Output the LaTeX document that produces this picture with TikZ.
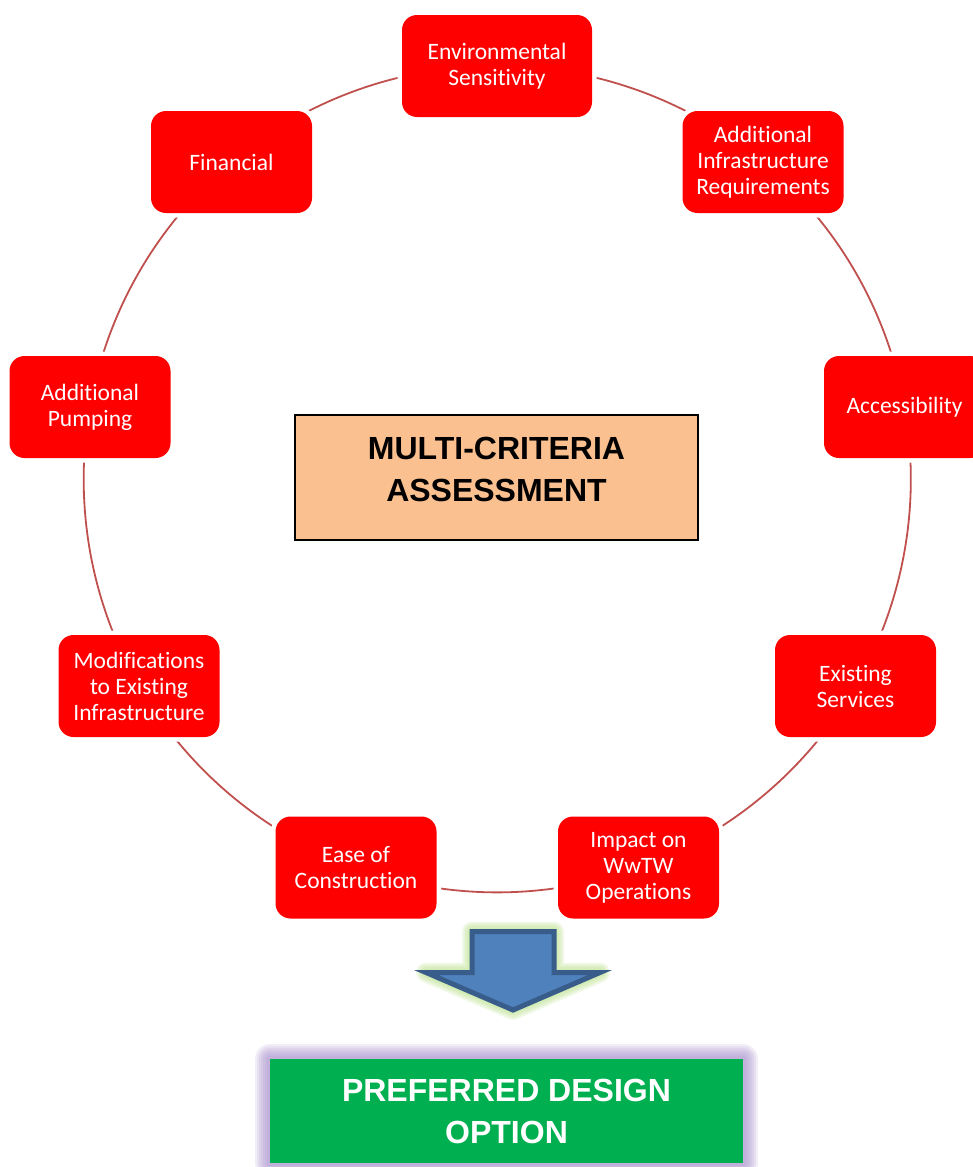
\documentclass[tikz,border=0pt]{standalone}
\usepackage{fontspec}
\setmainfont{Carlito}[Ligatures=NoCommon]
\newfontfamily\headfont{Liberation Sans}
\usetikzlibrary{backgrounds}
\definecolor{nodered}{HTML}{FF0000}
\definecolor{ringline}{HTML}{C0504D}
\definecolor{peach}{HTML}{FAC090}
\definecolor{arrowfill}{HTML}{4F81BD}
\definecolor{arrowedge}{HTML}{385D8A}
\definecolor{glowgreen}{HTML}{B9E08A}
\definecolor{boxgreen}{HTML}{00B050}
\definecolor{glowpurple}{HTML}{A088C8}
\begin{document}
\begin{tikzpicture}[x=1pt,y=-1pt,
  crit/.style={rectangle, rounded corners=15pt, fill=nodered, text=white,
    minimum width=161pt, minimum height=102pt, inner sep=2pt, align=center,
    font=\fontsize{23.5}{26}\selectfont,
    preaction={draw=white, line width=9pt}},
  ring/.style={draw=ringline, line width=1.8pt},
  arc/.style={bend left=20, looseness=0.88},
  headtext/.style={font=\headfont\bfseries\fontsize{32}{42}\selectfont, align=center, inner sep=0pt}]
\useasboundingbox (0,0) rectangle (973,1167);

% criteria nodes
\node[crit, minimum width=190pt] (env) at (497,66) {Environmental\\Sensitivity};
\node[crit] (addinf) at (763,162) {Additional\\Infrastructure\\Requirements};
\node[crit] (access) at (904.5,407) {Accessibility};
\node[crit] (exist) at (855.5,686) {Existing\\Services};
\node[crit] (impact) at (638.5,867.5) {Impact on\\WwTW\\Operations};
\node[crit] (ease) at (356,867.5) {Ease of\\Construction};
\node[crit] (modif) at (139,686) {Modifications\\to Existing\\Infrastructure};
\node[crit] (pump) at (90,407) {Additional\\Pumping};
\node[crit] (fin) at (231.5,162) {Financial};

% ring connectors
\begin{scope}[on background layer]
\draw[ring] (env.center) to[arc] (addinf.center);
\draw[ring] (addinf.center) to[arc] (access.center);
\draw[ring] (access.center) to[arc] (exist.center);
\draw[ring] (exist.center) to[arc] (impact.center);
\draw[ring] (impact.center) to[arc] (ease.center);
\draw[ring] (ease.center) to[arc] (modif.center);
\draw[ring] (modif.center) to[arc] (pump.center);
\draw[ring] (pump.center) to[arc] (fin.center);
\draw[ring] (fin.center) to[arc] (env.center);
\end{scope}

% central box
\node[draw=black, line width=1.5pt, fill=peach, minimum width=403pt, minimum height=125pt, inner sep=0pt] (mca) at (496.5,477.5) {};
\node[headtext, text=black] (mcatext) at (496.5,469) {MULTI-CRITERIA\\ASSESSMENT};

% block arrow with glow
\foreach \w in {20,17,14,11,8}{
  \draw[glowgreen, line width=\w pt, line join=round, opacity=0.18]
    (472,931.5) -- (554,931.5) -- (554,972.5) -- (600,972.5) -- (513,1010) -- (426,972.5) -- (472,972.5) -- cycle;
}
\draw[fill=arrowfill, draw=arrowedge, line width=5pt, line join=miter]
  (472,931.5) -- (554,931.5) -- (554,972.5) -- (600,972.5) -- (513,1010) -- (426,972.5) -- (472,972.5) -- cycle;

% preferred option box with glow
\foreach \w in {30,26,22,18,14,10,6}{
  \draw[glowpurple, line width=\w pt, line join=round, opacity=0.14]
    (270,1059) rectangle (743,1163);
}
\node[fill=boxgreen, minimum width=473pt, minimum height=104pt, inner sep=0pt] (pref) at (506.5,1111) {};
\node[headtext, text=white] (preftext) at (506.5,1111) {PREFERRED DESIGN\\OPTION};
\end{tikzpicture}
\end{document}
